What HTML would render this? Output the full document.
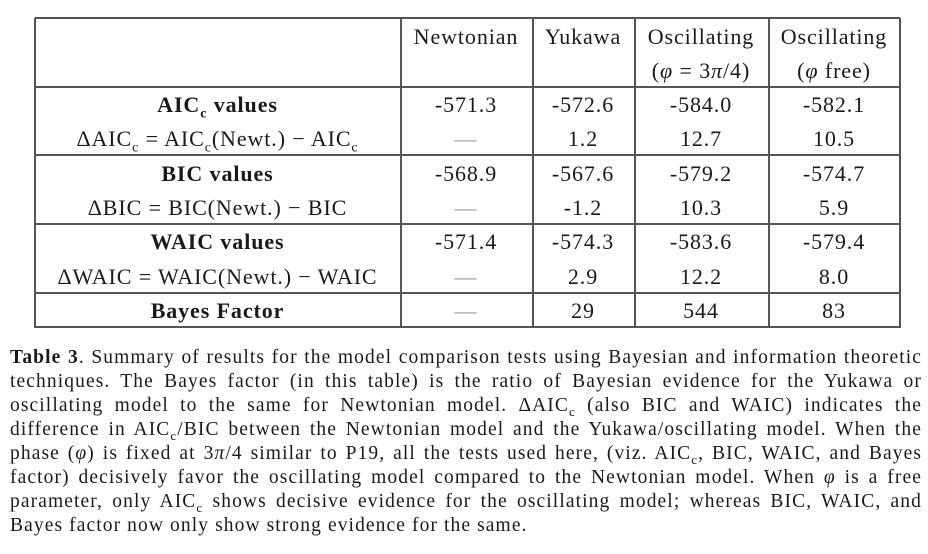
<!DOCTYPE html>
<html><head><meta charset="utf-8"><style>
body{margin:0;width:928px;height:554px;background:#fff;position:relative;overflow:hidden;font-family:"Liberation Serif",serif;color:#1a1a1a}
.h{position:absolute;height:1.5px;background:#555;left:35px;width:865px}
.v{position:absolute;width:1.5px;background:#555;top:18px;height:310px}
.t{position:absolute;font-size:22px;letter-spacing:0.9px;text-align:center;line-height:24px;white-space:nowrap}
.c0{left:35px;width:365px}.c1{left:400px;width:132px}.c2{left:532px;width:102px}.c3{left:634px;width:134px}.c4{left:768px;width:132px}
b{font-weight:bold}
sub{line-height:0}
.cap{position:absolute;left:10px;width:912px;font-size:19.5px;letter-spacing:1.1px;line-height:24px;white-space:nowrap;text-align:justify;text-align-last:justify}
</style></head><body>
<div class="h" style="top:17px"></div>
<div class="h" style="top:86px"></div>
<div class="h" style="top:154px"></div>
<div class="h" style="top:223px"></div>
<div class="h" style="top:292px"></div>
<div class="h" style="top:326px"></div>
<div class="v" style="left:34px"></div>
<div class="v" style="left:400px"></div>
<div class="v" style="left:532px"></div>
<div class="v" style="left:634px"></div>
<div class="v" style="left:768px"></div>
<div class="v" style="left:899px"></div>

<div class="t c1" style="top:25px">Newtonian</div>
<div class="t c2" style="top:25px">Yukawa</div>
<div class="t c3" style="top:25px">Oscillating</div>
<div class="t c4" style="top:25px">Oscillating</div>
<div class="t c3" style="top:59px">(<i>φ</i> = 3<i>π</i>/4)</div>
<div class="t c4" style="top:59px">(<i>φ</i> free)</div>

<div class="t c0" style="top:93px"><b>AIC<sub style="font-size:14px">c</sub> values</b></div>
<div class="t c0" style="top:127px">ΔAIC<sub style="font-size:14px">c</sub> = AIC<sub style="font-size:14px">c</sub>(Newt.) − AIC<sub style="font-size:14px">c</sub></div>
<div class="t c0" style="top:162px"><b>BIC values</b></div>
<div class="t c0" style="top:196px">ΔBIC = BIC(Newt.) − BIC</div>
<div class="t c0" style="top:230px"><b>WAIC values</b></div>
<div class="t c0" style="top:265px">ΔWAIC = WAIC(Newt.) − WAIC</div>
<div class="t c0" style="top:299px"><b>Bayes Factor</b></div>

<div class="t c1" style="top:93px">-571.3</div><div class="t c2" style="top:93px">-572.6</div><div class="t c3" style="top:93px">-584.0</div><div class="t c4" style="top:93px">-582.1</div>
<div class="t c1" style="top:127px;color:#999">—</div><div class="t c2" style="top:127px">1.2</div><div class="t c3" style="top:127px">12.7</div><div class="t c4" style="top:127px">10.5</div>
<div class="t c1" style="top:162px">-568.9</div><div class="t c2" style="top:162px">-567.6</div><div class="t c3" style="top:162px">-579.2</div><div class="t c4" style="top:162px">-574.7</div>
<div class="t c1" style="top:196px;color:#999">—</div><div class="t c2" style="top:196px">-1.2</div><div class="t c3" style="top:196px">10.3</div><div class="t c4" style="top:196px">5.9</div>
<div class="t c1" style="top:230px">-571.4</div><div class="t c2" style="top:230px">-574.3</div><div class="t c3" style="top:230px">-583.6</div><div class="t c4" style="top:230px">-579.4</div>
<div class="t c1" style="top:265px;color:#999">—</div><div class="t c2" style="top:265px">2.9</div><div class="t c3" style="top:265px">12.2</div><div class="t c4" style="top:265px">8.0</div>
<div class="t c1" style="top:299px;color:#999">—</div><div class="t c2" style="top:299px">29</div><div class="t c3" style="top:299px">544</div><div class="t c4" style="top:299px">83</div>

<div class="cap" style="top:346px"><b>Table 3</b>. Summary of results for the model comparison tests using Bayesian and information theoretic</div>
<div class="cap" style="top:370px">techniques. The Bayes factor (in this table) is the ratio of Bayesian evidence for the Yukawa or</div>
<div class="cap" style="top:394px">oscillating model to the same for Newtonian model. ΔAIC<sub style="font-size:13px">c</sub> (also BIC and WAIC) indicates the</div>
<div class="cap" style="top:418px">difference in AIC<sub style="font-size:13px">c</sub>/BIC between the Newtonian model and the Yukawa/oscillating model. When the</div>
<div class="cap" style="top:442px">phase (<i>φ</i>) is fixed at 3<i>π</i>/4 similar to P19, all the tests used here, (viz. AIC<sub style="font-size:13px">c</sub>, BIC, WAIC, and Bayes</div>
<div class="cap" style="top:466px">factor) decisively favor the oscillating model compared to the Newtonian model. When <i>φ</i> is a free</div>
<div class="cap" style="top:490px">parameter, only AIC<sub style="font-size:13px">c</sub> shows decisive evidence for the oscillating model; whereas BIC, WAIC, and</div>
<div class="cap" style="top:514px;text-align-last:left">Bayes factor now only show strong evidence for the same.</div>
</body></html>
